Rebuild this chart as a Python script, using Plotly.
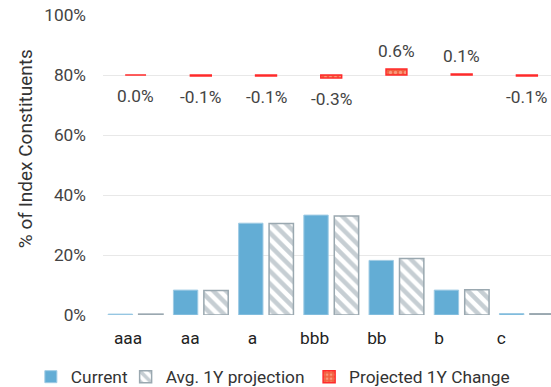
import plotly.graph_objects as go

categories = ["aaa", "aa", "a", "bbb", "bb", "b", "c"]
current = [0.3, 8.3, 30.6, 33.3, 18.2, 8.3, 0.5]
projection = [0.3, 8.2, 30.5, 33.0, 18.8, 8.4, 0.4]
change = [0.0, -0.1, -0.1, -0.3, 0.6, 0.1, -0.1]
y_ticks = [0, 20, 40, 60, 80, 100]
y_tick_labels = ["0%", "20%", "40%", "60%", "80%", "100%"]
y_title = "% of Index Constituents"

FONT = "Roboto"
FS = 17.3
fig = go.Figure()

fig.add_trace(go.Bar(
    x=categories, y=current, name="Current",
    marker=dict(color="#63add5", line=dict(color="#9fcbe4", width=1)),
    xaxis="x", yaxis="y", legend="legend",
))
fig.add_trace(go.Bar(
    x=categories, y=projection, name="Avg. 1Y projection",
    marker=dict(color="white", line=dict(color="#9aa8b0", width=1.5),
                pattern=dict(shape="\\", fgcolor="#8d9da7", bgcolor="white",
                             size=9, solidity=0.5)),
    xaxis="x", yaxis="y", legend="legend2",
))
fig.add_trace(go.Bar(
    x=categories, y=change, name="Projected 1Y Change",
    width=0.32, offset=-0.16,
    marker=dict(color="#f2603f", line=dict(color="#ff2a2a", width=1.5),
                pattern=dict(shape=".", fgcolor="#ffd2b8", bgcolor="#f2603f",
                             size=5, solidity=0.35)),
    xaxis="x", yaxis="y2", legend="legend3",
))
# invisible trace carrying the category label axis
fig.add_trace(go.Scatter(
    x=categories, y=[0] * len(categories), mode="markers",
    marker=dict(opacity=0), showlegend=False, hoverinfo="skip",
    xaxis="x2", yaxis="y",
))

for c, v in zip(categories, change):
    fig.add_annotation(
        x=c, y=v, xref="x", yref="y2", text=f"{v:.1f}%",
        showarrow=False, yanchor="middle",
        yshift=18 if v > 0 else -21,
        font=dict(family=FONT, size=FS, color="#444444"),
    )

fig.add_annotation(
    x=-0.174, y=0.553, xref="paper", yref="paper", text=y_title,
    textangle=-90, showarrow=False, xanchor="center", yanchor="middle",
    font=dict(family=FONT, size=19, color="#333333"),
)

legend_common = dict(orientation="h", xref="container", yref="container",
                     xanchor="left", y=0.026, yanchor="middle",
                     font=dict(family=FONT, size=FS, color="#333333"),
                     itemwidth=30, bgcolor="rgba(0,0,0,0)")

fig.update_layout(
    width=551, height=387,
    margin=dict(l=103, r=0, t=15, b=72),
    paper_bgcolor="white", plot_bgcolor="white",
    barmode="group", bargap=0.066, bargroupgap=0.2,
    font=dict(family=FONT, size=FS, color="#444444"),
    showlegend=True,
    legend=dict(x=0.056, **legend_common),
    legend2=dict(x=0.228, **legend_common),
    legend3=dict(x=0.561, **legend_common),
    xaxis=dict(type="category", categoryarray=categories, range=[-0.5, 6.37],
               showticklabels=False, showgrid=False, zeroline=False, showline=False),
    xaxis2=dict(type="category", categoryarray=categories, overlaying="x",
                side="bottom", range=[-0.402, 6.80], showgrid=False,
                zeroline=False, showline=False, ticklabelstandoff=11,
                tickfont=dict(family=FONT, size=FS, color="#222222")),
    yaxis=dict(range=[0, 100], tickvals=y_ticks, ticktext=y_tick_labels,
               showgrid=True, gridcolor="#e8e8e8", gridwidth=1.2,
               zeroline=False, showline=False, ticklabelstandoff=16,
               tickfont=dict(family=FONT, size=FS, color="#444444")),
    yaxis2=dict(range=[-24, 6], overlaying="y", side="right", visible=False,
                showgrid=False, zeroline=False),
)

fig.write_html("out.html")
